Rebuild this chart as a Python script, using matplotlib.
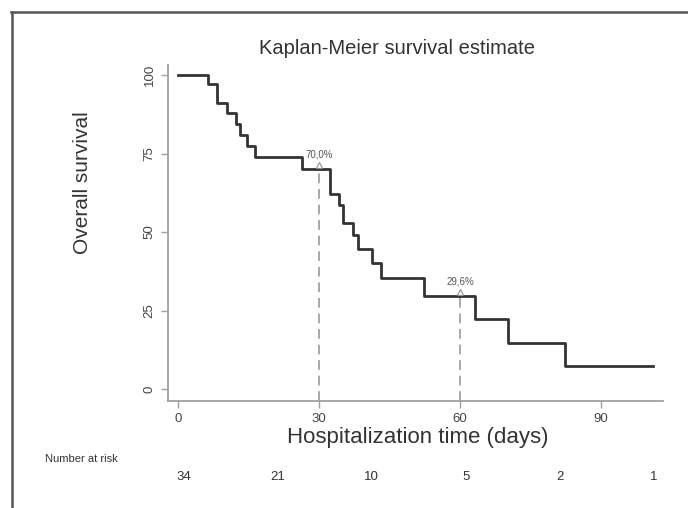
import numpy as np
import matplotlib
matplotlib.use('Agg')
import matplotlib.pyplot as plt
from matplotlib.lines import Line2D

plt.rcParams['font.family'] = ['Liberation Sans', 'DejaVu Sans']

# Kaplan-Meier step curve (days, survival % after the step)
km_time = [0, 6.4, 8.3, 10.4, 12.3, 13.2, 14.6, 16.4, 26.3, 32.3, 34.3, 35.2,
           37.2, 38.4, 41.2, 43.3, 52.3, 63.2, 70.3, 82.3, 101]
km_surv = [100, 97.1, 91.0, 88.0, 84.5, 81.0, 77.5, 73.8, 70.0, 62.0, 58.6, 53.0,
           49.0, 44.5, 40.0, 35.3, 29.6, 22.2, 14.8, 7.4, 7.4]

# marked survival at 30 and 60 days
mark_days = [30, 60]
mark_surv = [70.0, 29.6]
mark_labels = ['70,0%', '29,6%']

# number at risk table
risk_days = [0, 20, 40, 60, 80, 100]
risk_n = [34, 21, 10, 5, 2, 1]

xticks = [0, 30, 60, 90]
yticks = [0, 25, 50, 75, 100]

fig = plt.figure(figsize=(6.88, 5.08), dpi=100)
ax = fig.add_axes([168/688, 1-401/508, (663-168)/688, (401-65)/508])

axis_gray = '#a0a0a0'
ax.step(km_time, km_surv, where='post', color='#333333', linewidth=2.0, zorder=3)

for d, s, lab in zip(mark_days, mark_surv, mark_labels):
    ax.plot([d, d], [0 - 3.8, s], color='#a8a8a8', linewidth=1.4,
            linestyle=(0, (5, 3)), zorder=2)
    ax.plot(d, s + 1.2, marker='^', markersize=4, color='#909090',
            markerfacecolor='none', markeredgewidth=0.8, zorder=4)
    ax.text(d, s + 3.2, lab, ha='center', va='bottom', fontsize=7,
            color='#555555')

ax.set_xlim(-2.13, 103.2)
ax.set_ylim(-3.8, 103.2)
ax.set_xticks(xticks)
ax.set_yticks(yticks)
ax.set_yticklabels([str(v) for v in yticks], rotation=90, va='center')

for side in ['top', 'right']:
    ax.spines[side].set_visible(False)
for side in ['left', 'bottom']:
    ax.spines[side].set_color(axis_gray)
    ax.spines[side].set_linewidth(1.3)
ax.tick_params(axis='both', colors=axis_gray, length=5, width=1,
               labelsize=9.5, labelcolor='#444444', pad=4)

ax.set_title('Kaplan-Meier survival estimate', fontsize=14.5, color='#333333',
             x=(397-168)/495, pad=0, y=(401-48)/336, va='center')
ax.set_xlabel('Hospitalization time (days)', fontsize=16, color='#333333')
ax.xaxis.set_label_coords((418-168)/495, -(438-401)/336)
ax.xaxis.label.set_va('center')
ax.set_ylabel('Overall survival', fontsize=15, color='#333333')
ax.yaxis.set_label_coords((83-168)/495, (401-183)/336)
ax.yaxis.label.set_va('center')

# number at risk below the axis
fig.text(45/688, 1-459/508, 'Number at risk', fontsize=8, color='#333333',
         ha='left', va='center')
for d, n in zip(risk_days, risk_n):
    ax.text(d + 1.2, -(477-389)/3.14, str(n), ha='center', va='center', fontsize=9.5,
            color='#333333', clip_on=False)

# outer frame lines
fig.add_artist(Line2D([11/688, 1.0], [1-12/508, 1-12/508], transform=fig.transFigure,
                      color='#555555', linewidth=1.8))
fig.add_artist(Line2D([12/688, 12/688], [0.0, 1-12/508], transform=fig.transFigure,
                      color='#555555', linewidth=1.8))

fig.savefig('out.png', dpi=100)
